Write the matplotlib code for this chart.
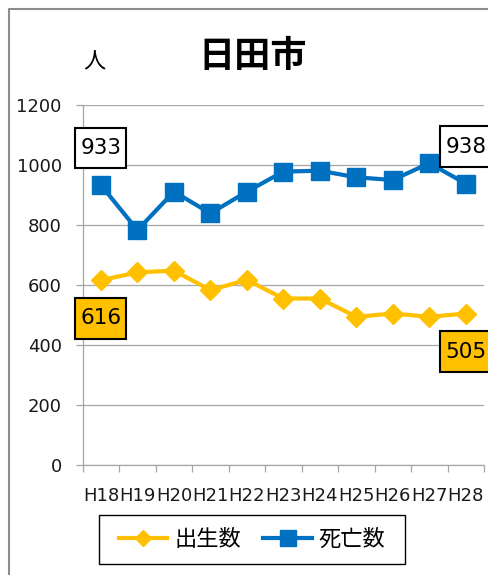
import matplotlib
matplotlib.use('Agg')
import matplotlib.pyplot as plt
import numpy as np
from matplotlib.path import Path
from matplotlib.lines import Line2D
from matplotlib.patches import Rectangle

plt.rcParams['font.family'] = ['DejaVu Sans', 'Noto Sans CJK JP']

# ---- data ----
years = ['H18', 'H19', 'H20', 'H21', 'H22', 'H23', 'H24', 'H25', 'H26', 'H27', 'H28']
births = [616, 642, 648, 583, 617, 555, 555, 494, 505, 494, 505]
deaths = [933, 783, 911, 839, 911, 978, 981, 959, 950, 1006, 938]
yticks = [0, 200, 400, 600, 800, 1000, 1200]
title = '日田市'
unit = '人'
series_names = ['出生数', '死亡数']

YELLOW = '#FFC000'
BLUE = '#0070C0'
GRID = '#A6A6A6'
W, H = 489, 575

fig = plt.figure(figsize=(W / 100, H / 100), dpi=100)
ax = fig.add_axes([82.7 / W, 1 - 465 / H, (484 - 82.7) / W, 360 / H])

x = np.arange(len(years))
ax.plot(x, births, color=YELLOW, lw=3, marker='D', ms=10.5, zorder=3, clip_on=False)
ax.plot(x, deaths, color=BLUE, lw=3, marker='s', ms=13, zorder=3, clip_on=False)

ax.set_xlim(-0.5, len(years) - 0.5)
ax.set_ylim(0, 1200)
ax.set_yticks(yticks)
ax.set_yticklabels([str(v) for v in yticks])
ax.yaxis.grid(True, color=GRID, lw=0.9)
ax.set_axisbelow(True)
for s in ['top', 'right']:
    ax.spines[s].set_visible(False)
for s in ['left', 'bottom']:
    ax.spines[s].set_color(GRID)
    ax.spines[s].set_linewidth(0.9)

ax.set_xticks(np.arange(-0.5, len(years), 1.0))
ax.set_xticklabels([])
ax.set_xticks(x, minor=True)
ax.set_xticklabels(years, minor=True)
ax.tick_params(axis='y', length=5, width=0.9, color=GRID, pad=10, labelsize=13, labelcolor='#1a1a1a')
ax.tick_params(axis='x', which='major', length=5, width=0.9, color=GRID)
ax.tick_params(axis='x', which='minor', length=0, pad=16, labelsize=13, labelcolor='#1a1a1a')


def labelbox(x0, y0, width, height, mutation_size):
    px = 0.23 * mutation_size
    py = 0.48 * mutation_size
    verts = [(x0 - px, y0 - py), (x0 + width + px, y0 - py),
             (x0 + width + px, y0 + height + py), (x0 - px, y0 + height + py),
             (x0 - px, y0 - py)]
    return Path(verts, closed=True)


for i in [0, len(years) - 1]:
    ax.annotate(str(deaths[i]), xy=(x[i], deaths[i]), xytext=(0, 26.6),
                textcoords='offset points', ha='center', va='center', fontsize=15.5,
                bbox=dict(boxstyle=labelbox, fc='white', ec='black', lw=1.5),
                zorder=6, annotation_clip=False)
    ax.annotate(str(births[i]), xy=(x[i], births[i]), xytext=(0, -27.4),
                textcoords='offset points', ha='center', va='center', fontsize=15.5,
                bbox=dict(boxstyle=labelbox, fc=YELLOW, ec='black', lw=1.5),
                zorder=6, annotation_clip=False)

fig.text(253 / W, 1 - 57 / H, title, ha='center', va='center', fontsize=26,
         fontweight='bold', family=['Noto Sans CJK JP'])
fig.text(94.5 / W, 1 - 61.5 / H, unit, ha='center', va='center', fontsize=16,
         family=['Noto Sans CJK JP'])

# outer chart border
fig.add_artist(Line2D([9 / W, 9 / W, 1], [0, 1 - 9 / H, 1 - 9 / H],
                      transform=fig.transFigure, color='#8c8c8c', lw=1.5))

# legend
handles = [Line2D([], [], color=YELLOW, lw=3, marker='D', ms=8),
           Line2D([], [], color=BLUE, lw=3, marker='s', ms=11)]
fig.legend(handles, series_names, loc='center', bbox_to_anchor=(252 / W, 1 - 539.5 / H),
           ncol=2, frameon=False, prop={'family': 'Noto Sans CJK JP', 'size': 16},
           handlelength=2.2, handletextpad=0.3, columnspacing=1.0)
fig.add_artist(Rectangle((99 / W, 1 - 564 / H), 306 / W, 49 / H, transform=fig.transFigure,
                         fill=False, ec='black', lw=1.0))

fig.savefig('out.png', dpi=100)
